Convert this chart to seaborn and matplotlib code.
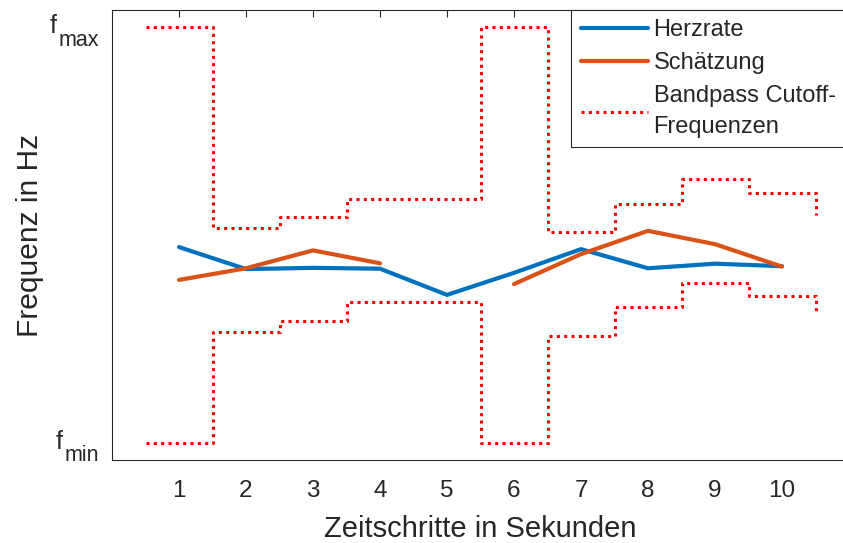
import numpy as np
import pandas as pd
import matplotlib
matplotlib.use("Agg")
import matplotlib.pyplot as plt
import seaborn as sns
from matplotlib.lines import Line2D

# ---- data (normalised: f_min = 0, f_max = 1) ----
steps = [1, 2, 3, 4, 5, 6, 7, 8, 9, 10]
herzrate = [0.471, 0.418, 0.421, 0.419, 0.356, 0.409, 0.466, 0.420, 0.431, 0.425]
schaetzung = [0.392, 0.420, 0.463, 0.432, np.nan, 0.382, 0.454, 0.510, 0.478, 0.424]
band_x = [0.5, 1.5, 2.5, 3.5, 4.5, 5.5, 6.5, 7.5, 8.5, 9.5, 10.5]
band_upper = [1.0, 0.516, 0.543, 0.587, 0.587, 1.0, 0.507, 0.575, 0.635, 0.601, 0.549]
band_lower = [0.0, 0.266, 0.294, 0.338, 0.338, 0.0, 0.256, 0.327, 0.385, 0.353, 0.308]
y_ticks = [0, 1]
y_tick_subs = ["min", "max"]
legend_labels = ["Herzrate", "Schätzung", "Bandpass Cutoff-\nFrequenzen"]

BLUE = "#0072BD"
ORANGE = "#D95319"
RED = "#FF0000"
DARK = "#262626"
DOTS = (0, (1, 1.4))

sns.set_style("white")
plt.rcParams["font.family"] = ["Liberation Sans", "DejaVu Sans"]

fig = plt.figure(figsize=(8.43, 5.43), dpi=100)
ax = fig.add_axes([112 / 843, 83 / 543, 737 / 843, 450 / 543])

# Herzrate
sns.lineplot(x=steps, y=herzrate, ax=ax, color=BLUE, lw=3, legend=False)

# Schätzung (with gap)
df = pd.DataFrame({"t": steps, "v": schaetzung})
df["seg"] = df["v"].isna().cumsum()
df = df.dropna()
sns.lineplot(data=df, x="t", y="v", units="seg", estimator=None, ax=ax,
             color=ORANGE, lw=3, legend=False)

# Bandpass cutoffs (stairs)
for yb in (band_upper, band_lower):
    sns.lineplot(x=band_x, y=yb, ax=ax, color=RED, lw=2.2, linestyle=DOTS,
                 drawstyle="steps-post", legend=False)

ax.set_xlim(0, 11)
ax.set_ylim(-0.041, 1.041)
ax.set_xticks(steps)
ax.set_yticks(y_ticks)
ax.set_yticklabels(["", ""])
ax.tick_params(direction="in", length=5, width=0.8, top=True, right=False,
               labelsize=17.5, colors=DARK, pad=14.5)
for s in ax.spines.values():
    s.set_color(DARK)
    s.set_linewidth(0.8)

ax.set_xlabel("Zeitschritte in Sekunden", fontsize=21, color=DARK, labelpad=9)
ax.set_ylabel("Frequenz in Hz", fontsize=21.5, color=DARK)
ax.yaxis.set_label_coords(-68 / 737, 0.5)

# y tick labels  f_min / f_max  (MATLAB-style subscripts)
fig.canvas.draw()
renderer = fig.canvas.get_renderer()
for yv, sub in zip(y_ticks, y_tick_subs):
    st = ax.annotate(sub, xy=(0, yv), xycoords=("axes fraction", "data"),
                     xytext=(-12.5, -18.5), textcoords="offset pixels",
                     ha="right", va="baseline", fontsize=15.5, color=DARK)
    w = st.get_window_extent(renderer).width
    ax.annotate("f", xy=(0, yv), xycoords=("axes fraction", "data"),
                xytext=(-12.5 - w - 9, -6), textcoords="offset pixels",
                ha="left", va="baseline", fontsize=18, color=DARK)

handles = [Line2D([], [], color=BLUE, lw=3),
           Line2D([], [], color=ORANGE, lw=3),
           Line2D([], [], color=RED, lw=2.2, linestyle=DOTS)]
leg = ax.legend(handles, legend_labels, loc="upper right",
                bbox_to_anchor=(1 - 4 / 737, 1),
                borderaxespad=0, fancybox=False, edgecolor=DARK, framealpha=1,
                fontsize=17, handlelength=2.84, handletextpad=0.24,
                labelspacing=0.45, borderpad=0.4)
leg.get_frame().set_linewidth(0.8)
for t in leg.get_texts():
    t.set_linespacing(1.55)

fig.savefig("out.png", dpi=100)
